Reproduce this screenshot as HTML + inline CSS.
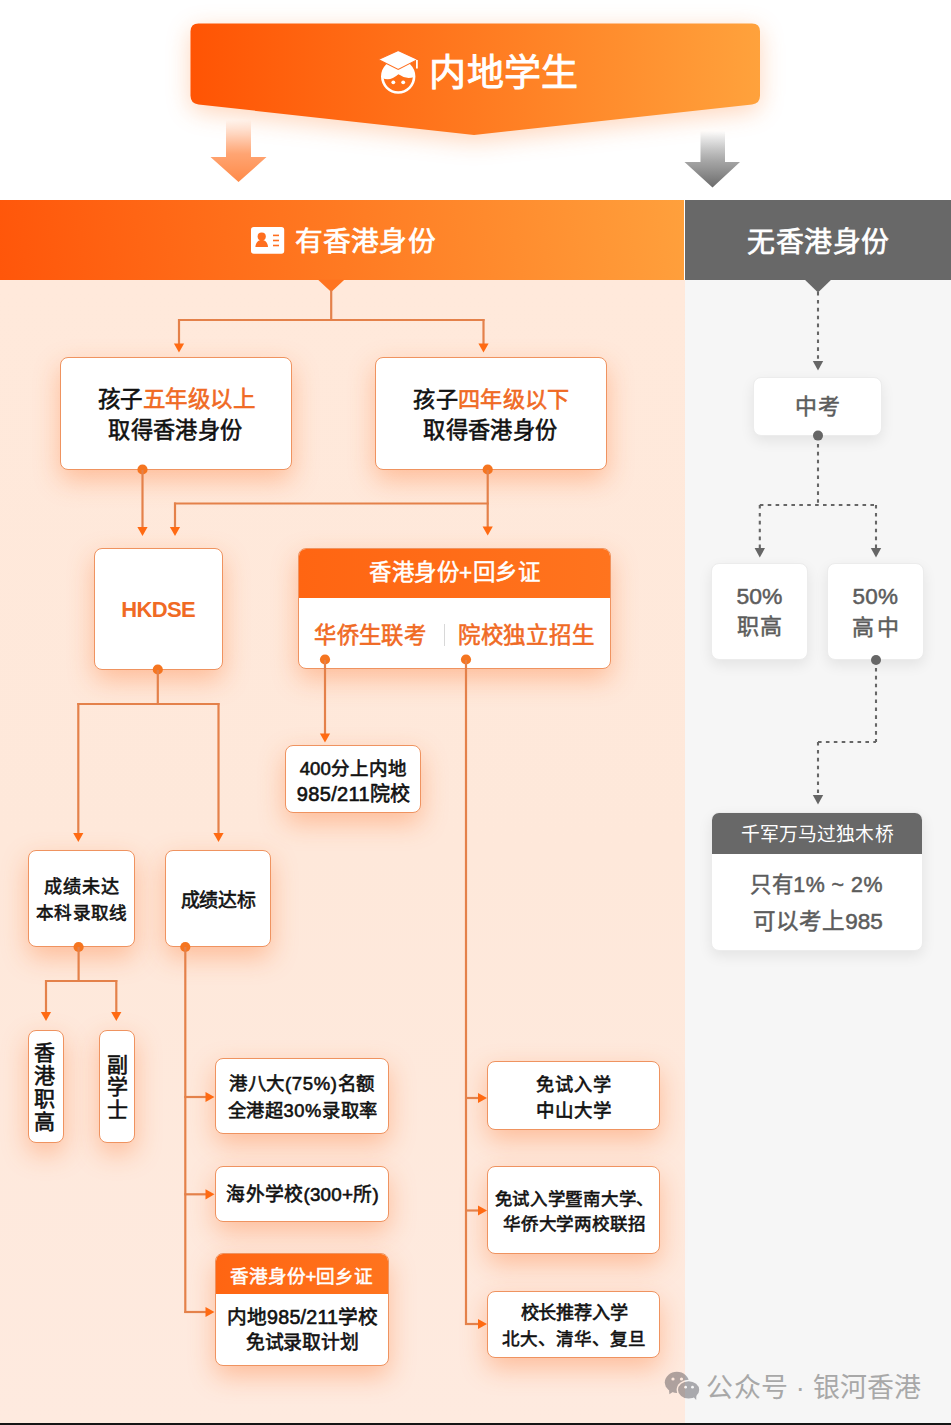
<!DOCTYPE html>
<html lang="zh-CN">
<head>
<meta charset="utf-8">
<style>
*{margin:0;padding:0;box-sizing:border-box;}
html,body{width:951px;height:1425px;overflow:hidden;background:#fff;}
body{position:relative;font-family:"Liberation Sans",sans-serif;}
.abs{position:absolute;}
#lp{position:absolute;left:0;top:280px;width:685px;height:1143px;
  background:linear-gradient(180deg,#FFE9DB 0%,#FEE8DA 50%,#FEEADF 100%);}
#rp{position:absolute;left:685px;top:280px;width:266px;height:1143px;background:#F6F6F6;}
#bot{position:absolute;left:0;top:1423px;width:951px;height:2px;background:#151515;}
#hb1{position:absolute;left:0;top:200px;width:684px;height:80px;
  background:linear-gradient(82deg,#FF560A 0%,#FF7A22 50%,#FFA03C 100%);}
#hb2{position:absolute;left:685px;top:200px;width:266px;height:80px;background:#686868;}
.box{position:absolute;background:#fff;border:1px solid #EF9360;border-radius:8px;overflow:hidden;
  box-shadow:0 10px 26px rgba(255,110,35,0.36);}
.gbox{position:absolute;background:#fff;border-radius:8px;overflow:hidden;border:1px solid #ECECEC;
  box-shadow:0 5px 14px rgba(0,0,0,0.08);}
.hdr{position:absolute;left:-1px;top:-1px;right:-1px;background:linear-gradient(90deg,#FF6512,#FF741E);}
.ghdr{position:absolute;left:-1px;top:-1px;right:-1px;background:#686868;}
.sep{position:absolute;width:1.5px;background:#d8d8d8;}
.t{position:absolute;white-space:nowrap;line-height:1;font-weight:400;}
.t.vt{line-height:22.9px;}
.dk{color:#111;-webkit-text-stroke:0.6px #111;}
.dk .oc{color:#F06A24;-webkit-text-stroke:0.6px #F06A24;}
.oc{color:#F06A24;-webkit-text-stroke:0.6px #F06A24;}
.ocb{color:#F06A24;font-weight:700;}
.wh{color:#fff;-webkit-text-stroke:0.5px #fff;}
.wh.big{-webkit-text-stroke:0.9px #fff;}
.wh.hd{-webkit-text-stroke:0.7px #fff;}
.wh.ql{-webkit-text-stroke:0px #fff;}
.gr{color:#5c5c5c;-webkit-text-stroke:0.5px #5c5c5c;}
.wm{color:#a8a8a8;}
</style>
</head>
<body>
<div id="lp"></div>
<div id="rp"></div>
<div id="hb1"></div>
<div id="hb2"></div>
<div id="bot"></div>
<!-- top banner + arrows -->
<svg class="abs" style="left:0;top:0" width="951" height="200" viewBox="0 0 951 200">
  <defs>
    <linearGradient id="bg1" x1="0" y1="0" x2="1" y2="0">
      <stop offset="0" stop-color="#FF5404"/>
      <stop offset="0.5" stop-color="#FF7A20"/>
      <stop offset="1" stop-color="#FFA23C"/>
    </linearGradient>
    <linearGradient id="ag1" x1="0" y1="0" x2="0" y2="1">
      <stop offset="0" stop-color="#FF8A4C" stop-opacity="0"/>
      <stop offset="0.55" stop-color="#FF9A62" stop-opacity="0.9"/>
      <stop offset="1" stop-color="#FF8A48"/>
    </linearGradient>
    <linearGradient id="ag2" x1="0" y1="0" x2="0" y2="1">
      <stop offset="0" stop-color="#888" stop-opacity="0"/>
      <stop offset="0.55" stop-color="#999" stop-opacity="0.9"/>
      <stop offset="1" stop-color="#6a6a6a"/>
    </linearGradient>
    <filter id="sh1" x="-20%" y="-50%" width="140%" height="200%">
      <feGaussianBlur stdDeviation="12"/>
    </filter>
  </defs>
  <path d="M198.5,23.5 H752 Q760,23.5 760,31.5 V95.5 Q760,103.5 752,104.5 L474,135 L198.5,104.5 Q190.5,103.5 190.5,95.5 V31.5 Q190.5,23.5 198.5,23.5 Z" fill="#FF8A40" opacity="0.35" filter="url(#sh1)" transform="translate(0,6)"/>
  <path d="M198.5,23.5 H752 Q760,23.5 760,31.5 V95.5 Q760,103.5 752,104.5 L474,135 L198.5,104.5 Q190.5,103.5 190.5,95.5 V31.5 Q190.5,23.5 198.5,23.5 Z" fill="url(#bg1)"/>
  <!-- orange arrow -->
  <path d="M226,120 H251 V157 H266.5 L238.5,182 L210.5,157 H226 Z" fill="url(#ag1)"/>
  <!-- gray arrow -->
  <path d="M700.5,131 H725 V162 H740 L712.5,187.5 L684.5,162 H700.5 Z" fill="url(#ag2)"/>
  <!-- student icon -->
  <g transform="translate(372,44)">
    <circle cx="26.2" cy="32.6" r="15.9" fill="none" stroke="#fff" stroke-width="2.6"/>
    <path d="M10.36,34 Q18,37.8 26.4,30.3 L27.9,30.9 Q34,35.6 42.09,33 A15.9,15.9 0 1 0 10.36,34 Z" fill="#fff"/>
    <path d="M26.2,6.4 L45.8,15.4 L26.2,25.4 L6.4,15.6 Z" fill="#fff" stroke="#FF6E1E" stroke-width="1.1"/>
    <path d="M44.9,16 V24.6" stroke="#fff" stroke-width="1.8"/>
    <circle cx="21.3" cy="38.3" r="1.9" fill="#fff"/>
    <circle cx="31.2" cy="38.3" r="1.9" fill="#fff"/>
  </g>
</svg>
<!-- header band content -->
<svg class="abs" style="left:251px;top:227px" width="34" height="27" viewBox="0 0 34 27">
  <rect x="0" y="0" width="33.2" height="26.8" rx="2.8" fill="#fff"/>
  <circle cx="10.7" cy="9.6" r="4.1" fill="#FF6E1E"/>
  <path d="M4.4,20 C4.6,15.6 7,12.9 10.7,12.9 C14.4,12.9 16.8,15.6 17,20 Z" fill="#FF6E1E"/>
  <rect x="22" y="7.6" width="6" height="1.6" fill="#FF6E1E"/>
  <rect x="22" y="12.7" width="6" height="1.6" fill="#FF6E1E"/>
  <rect x="22" y="17.7" width="6" height="1.6" fill="#FF6E1E"/>
</svg>
<!-- wechat icon -->
<svg class="abs" style="left:663px;top:1369px" width="40" height="34" viewBox="0 0 40 34">
  <defs>
    <mask id="wm1"><rect x="0" y="0" width="40" height="34" fill="#fff"/><ellipse cx="25.6" cy="20.9" rx="12" ry="10.1" fill="#000"/></mask>
    <mask id="wm2"><rect x="0" y="0" width="40" height="34" fill="#fff"/>
      <circle cx="10" cy="10" r="1.6" fill="#000"/><circle cx="18.5" cy="10" r="1.6" fill="#000"/>
      <circle cx="22.6" cy="18.2" r="1.4" fill="#000"/><circle cx="29.5" cy="18.2" r="1.4" fill="#000"/></mask>
  </defs>
  <g opacity="0.38" fill="#2e2e38" mask="url(#wm2)">
    <g mask="url(#wm1)">
      <ellipse cx="13.9" cy="13.35" rx="12.1" ry="10.55"/>
      <path d="M6,21 L6.4,25.2 L10.5,22.5 Z"/>
    </g>
    <ellipse cx="25.6" cy="20.9" rx="10.6" ry="8.7"/>
    <path d="M30,27.5 L33.2,31 L33.4,26 Z"/>
  </g>
</svg>

<div class="box" style="left:60px;top:357px;width:232px;height:113px"></div>
<div class="box" style="left:375px;top:357px;width:232px;height:113px"></div>
<div class="box" style="left:94px;top:548px;width:129px;height:122px"></div>
<div class="box" style="left:298px;top:548px;width:313px;height:121px"><div class="hdr" style="height:50px"></div><div class="sep" style="left:144.5px;top:75px;height:22px"></div></div>
<div class="box" style="left:285px;top:745px;width:136px;height:68px"></div>
<div class="box" style="left:28px;top:850px;width:107px;height:97px"></div>
<div class="box" style="left:165px;top:850px;width:106px;height:97px"></div>
<div class="box" style="left:28px;top:1030px;width:36px;height:113px"></div>
<div class="box" style="left:99px;top:1030px;width:36px;height:113px"></div>
<div class="box" style="left:215px;top:1058px;width:174px;height:76px"></div>
<div class="box" style="left:215px;top:1166px;width:174px;height:56px"></div>
<div class="box" style="left:215px;top:1253px;width:174px;height:113px"><div class="hdr" style="height:41px"></div></div>
<div class="box" style="left:487px;top:1061px;width:173px;height:69px"></div>
<div class="box" style="left:487px;top:1166px;width:173px;height:88px"></div>
<div class="box" style="left:487px;top:1291px;width:173px;height:67px"></div>
<div class="gbox" style="left:753px;top:377px;width:129px;height:59px"></div>
<div class="gbox" style="left:711px;top:563px;width:97px;height:97px"></div>
<div class="gbox" style="left:827px;top:563px;width:97px;height:97px"></div>
<div class="gbox" style="left:711px;top:812px;width:212px;height:139px"><div class="ghdr" style="height:42px"></div></div>
<svg class="abs" style="left:0;top:0" width="951" height="1425" viewBox="0 0 951 1425">
<polygon points="317.8,279.5 344.6,279.5 331.2,292" fill="#FF7420"/>
<line x1="331.2" y1="290" x2="331.2" y2="320" stroke="#E4814A" stroke-width="2.2"/>
<line x1="178" y1="320" x2="484.5" y2="320" stroke="#E4814A" stroke-width="2.2"/>
<line x1="179" y1="319" x2="179" y2="345" stroke="#E4814A" stroke-width="2.2"/>
<polygon points="173.9,343.5 184.1,343.5 179,352.5" fill="#FF6A12"/>
<line x1="483.5" y1="319" x2="483.5" y2="345" stroke="#E4814A" stroke-width="2.2"/>
<polygon points="478.4,343.5 488.6,343.5 483.5,352.5" fill="#FF6A12"/>
<circle cx="142.5" cy="469.5" r="5.1" fill="#F57520"/>
<line x1="142.5" y1="470" x2="142.5" y2="528" stroke="#E4814A" stroke-width="2.2"/>
<polygon points="137.4,527 147.6,527 142.5,536" fill="#FF6A12"/>
<circle cx="487.7" cy="469.5" r="5.1" fill="#F57520"/>
<line x1="487.7" y1="470" x2="487.7" y2="528" stroke="#E4814A" stroke-width="2.2"/>
<polygon points="482.59999999999997,526.5 492.8,526.5 487.7,535.5" fill="#FF6A12"/>
<line x1="174" y1="503.5" x2="488.7" y2="503.5" stroke="#E4814A" stroke-width="2.2"/>
<line x1="175" y1="502.5" x2="175" y2="528" stroke="#E4814A" stroke-width="2.2"/>
<polygon points="169.9,527 180.1,527 175,536" fill="#FF6A12"/>
<circle cx="157.8" cy="669.5" r="5.1" fill="#F57520"/>
<line x1="157.8" y1="670" x2="157.8" y2="705" stroke="#E4814A" stroke-width="2.2"/>
<line x1="77.3" y1="704" x2="219.5" y2="704" stroke="#E4814A" stroke-width="2.2"/>
<line x1="78.3" y1="703" x2="78.3" y2="834" stroke="#E4814A" stroke-width="2.2"/>
<polygon points="73.2,833 83.39999999999999,833 78.3,842" fill="#FF6A12"/>
<line x1="218.5" y1="703" x2="218.5" y2="834" stroke="#E4814A" stroke-width="2.2"/>
<polygon points="213.4,833 223.6,833 218.5,842" fill="#FF6A12"/>
<circle cx="325" cy="659.5" r="5.1" fill="#F57520"/>
<line x1="325" y1="660" x2="325" y2="735" stroke="#E4814A" stroke-width="2.2"/>
<polygon points="319.9,733.5 330.1,733.5 325,742.5" fill="#FF6A12"/>
<circle cx="466" cy="659.5" r="5.1" fill="#F57520"/>
<line x1="466" y1="660" x2="466" y2="1325" stroke="#E4814A" stroke-width="2.2"/>
<line x1="465" y1="1098" x2="480" y2="1098" stroke="#E4814A" stroke-width="2.2"/>
<polygon points="478,1092.9 478,1103.1 487,1098" fill="#FF6A12"/>
<line x1="465" y1="1210.5" x2="480" y2="1210.5" stroke="#E4814A" stroke-width="2.2"/>
<polygon points="478,1205.4 478,1215.6 487,1210.5" fill="#FF6A12"/>
<line x1="465" y1="1324" x2="480" y2="1324" stroke="#E4814A" stroke-width="2.2"/>
<polygon points="478,1318.9 478,1329.1 487,1324" fill="#FF6A12"/>
<circle cx="78.6" cy="947" r="5.1" fill="#F57520"/>
<line x1="78.6" y1="947" x2="78.6" y2="982" stroke="#E4814A" stroke-width="2.2"/>
<line x1="45" y1="981" x2="117.3" y2="981" stroke="#E4814A" stroke-width="2.2"/>
<line x1="46" y1="980" x2="46" y2="1013" stroke="#E4814A" stroke-width="2.2"/>
<polygon points="40.9,1012 51.1,1012 46,1021" fill="#FF6A12"/>
<line x1="116.3" y1="980" x2="116.3" y2="1013" stroke="#E4814A" stroke-width="2.2"/>
<polygon points="111.2,1012 121.39999999999999,1012 116.3,1021" fill="#FF6A12"/>
<circle cx="185.3" cy="947" r="5.1" fill="#F57520"/>
<line x1="185.3" y1="947" x2="185.3" y2="1313" stroke="#E4814A" stroke-width="2.2"/>
<line x1="184.3" y1="1097" x2="207" y2="1097" stroke="#E4814A" stroke-width="2.2"/>
<polygon points="205.5,1091.9 205.5,1102.1 214.5,1097" fill="#FF6A12"/>
<line x1="184.3" y1="1194.3" x2="207" y2="1194.3" stroke="#E4814A" stroke-width="2.2"/>
<polygon points="205.5,1189.2 205.5,1199.3999999999999 214.5,1194.3" fill="#FF6A12"/>
<line x1="184.3" y1="1312" x2="207" y2="1312" stroke="#E4814A" stroke-width="2.2"/>
<polygon points="205.5,1306.9 205.5,1317.1 214.5,1312" fill="#FF6A12"/>
<polygon points="804.6,279.5 831.4,279.5 818,292.5" fill="#686868"/>
<line x1="818" y1="292" x2="818" y2="362" stroke="#666666" stroke-width="2.1" stroke-dasharray="3.6 4.3"/>
<polygon points="812.8,361.1 823.2,361.1 818,370.5" fill="#666666"/>
<circle cx="818" cy="435.6" r="5" fill="#666666"/>
<line x1="818" y1="436" x2="818" y2="505" stroke="#666666" stroke-width="2.1" stroke-dasharray="3.6 4.3"/>
<line x1="759.8" y1="505" x2="876" y2="505" stroke="#666666" stroke-width="2.1" stroke-dasharray="3.6 4.3"/>
<line x1="759.8" y1="505" x2="759.8" y2="549" stroke="#666666" stroke-width="2.1" stroke-dasharray="3.6 4.3"/>
<polygon points="754.5999999999999,548.1 765.0,548.1 759.8,557.5" fill="#666666"/>
<line x1="876" y1="505" x2="876" y2="549" stroke="#666666" stroke-width="2.1" stroke-dasharray="3.6 4.3"/>
<polygon points="870.8,548.1 881.2,548.1 876,557.5" fill="#666666"/>
<circle cx="876" cy="660" r="5" fill="#666666"/>
<line x1="876" y1="660" x2="876" y2="742" stroke="#666666" stroke-width="2.1" stroke-dasharray="3.6 4.3"/>
<line x1="818" y1="742" x2="876" y2="742" stroke="#666666" stroke-width="2.1" stroke-dasharray="3.6 4.3"/>
<line x1="818" y1="742" x2="818" y2="796" stroke="#666666" stroke-width="2.1" stroke-dasharray="3.6 4.3"/>
<polygon points="812.8,795.1 823.2,795.1 818,804.5" fill="#666666"/>
</svg>
<div id="t_main" class="t wh big" style="left:429.21px;top:56.30px;font-size:36.96px;letter-spacing:0.33px">内地学生</div>
<div id="t_h1" class="t wh hd" style="left:294.52px;top:228.24px;font-size:27.69px;letter-spacing:0.30px">有香港身份</div>
<div id="t_h2" class="t wh hd" style="left:746.94px;top:229.14px;font-size:27.92px;letter-spacing:0.58px">无香港身份</div>
<div id="a1" class="t dk" style="left:97.70px;top:389.09px;font-size:22.49px;letter-spacing:0.53px">孩子<span class="oc">五年级以上</span></div>
<div id="a2" class="t dk" style="left:108.19px;top:420.19px;font-size:22.19px;letter-spacing:0.43px">取得香港身份</div>
<div id="b1" class="t dk" style="left:413.13px;top:388.69px;font-size:22.11px;letter-spacing:0.39px">孩子<span class="oc">四年级以下</span></div>
<div id="b2" class="t dk" style="left:423.19px;top:420.19px;font-size:22.19px;letter-spacing:0.43px">取得香港身份</div>
<div id="hk" class="t ocb" style="left:121.14px;top:598.52px;font-size:22.00px;letter-spacing:-0.60px">HKDSE</div>
<div id="ch" class="t wh hs" style="left:369.17px;top:562.49px;font-size:22.46px;letter-spacing:0.49px">香港身份+回乡证</div>
<div id="c1" class="t oc" style="left:314.32px;top:625.01px;font-size:22.32px;letter-spacing:0.30px">华侨生联考</div>
<div id="c2" class="t oc" style="left:457.94px;top:625.34px;font-size:22.43px;letter-spacing:0.75px">院校独立招生</div>
<div id="f1" class="t dk" style="left:299.71px;top:760.10px;font-size:18.52px;letter-spacing:0.09px">400分上内地</div>
<div id="f2" class="t dk" style="left:296.78px;top:784.13px;font-size:20.02px;letter-spacing:0.35px">985/211院校</div>
<div id="n1" class="t dk" style="left:43.90px;top:878.09px;font-size:18.09px;letter-spacing:0.89px">成绩未达</div>
<div id="n2" class="t dk" style="left:36.06px;top:904.90px;font-size:17.60px;letter-spacing:0.30px">本科录取线</div>
<div id="d1" class="t dk" style="left:180.62px;top:891.82px;font-size:18.92px;letter-spacing:-0.31px">成绩达标</div>
<div id="v1" class="t dk vt" style="left:34.30px;top:1042.49px;font-size:21.00px;letter-spacing:0.30px">香<br>港<br>职<br>高</div>
<div id="v2" class="t dk vt" style="left:106.55px;top:1053.50px;font-size:21.00px;letter-spacing:0.30px">副<br>学<br>士</div>
<div id="g1" class="t dk" style="left:229.02px;top:1075.21px;font-size:18.48px;letter-spacing:0.66px">港八大(75%)名额</div>
<div id="g2" class="t dk" style="left:227.58px;top:1101.62px;font-size:18.27px;letter-spacing:0.64px">全港超30%录取率</div>
<div id="w1" class="t dk" style="left:226.48px;top:1185.56px;font-size:18.81px;letter-spacing:0.24px">海外学校(300+所)</div>
<div id="nh" class="t wh hs" style="left:229.56px;top:1267.72px;font-size:18.62px;letter-spacing:0.01px">香港身份+回乡证</div>
<div id="m1" class="t dk" style="left:226.73px;top:1308.05px;font-size:19.71px;letter-spacing:0.20px">内地985/211学校</div>
<div id="m2" class="t dk" style="left:245.62px;top:1333.51px;font-size:18.84px;letter-spacing:-0.08px">免试录取计划</div>
<div id="s1" class="t dk" style="left:536.32px;top:1076.25px;font-size:18.19px;letter-spacing:0.94px">免试入学</div>
<div id="s2" class="t dk" style="left:536.13px;top:1102.12px;font-size:18.52px;letter-spacing:-0.13px">中山大学</div>
<div id="j1" class="t dk" style="left:494.55px;top:1190.77px;font-size:17.40px;letter-spacing:0.72px">免试入学暨南大学、</div>
<div id="j2" class="t dk" style="left:502.93px;top:1215.84px;font-size:17.58px;letter-spacing:-0.19px">华侨大学两校联招</div>
<div id="x1" class="t dk" style="left:520.53px;top:1304.43px;font-size:18.16px;letter-spacing:-0.18px">校长推荐入学</div>
<div id="x2" class="t dk" style="left:502.37px;top:1330.78px;font-size:17.57px;letter-spacing:-0.10px">北大、清华、复旦</div>
<div id="zk" class="t gr" style="left:794.91px;top:395.98px;font-size:21.96px;letter-spacing:1.42px">中考</div>
<div id="z1" class="t gr" style="left:736.52px;top:584.98px;font-size:22.94px;letter-spacing:-0.06px">50%</div>
<div id="z2" class="t gr" style="left:737.30px;top:616.48px;font-size:22.00px;letter-spacing:1.16px">职高</div>
<div id="z3" class="t gr" style="left:852.46px;top:586.21px;font-size:22.45px;letter-spacing:0.34px">50%</div>
<div id="z4" class="t gr" style="left:851.89px;top:617.20px;font-size:22.00px;letter-spacing:3.56px">高中</div>
<div id="qh" class="t wh ql" style="left:740.90px;top:826.26px;font-size:18.80px;letter-spacing:0.09px">千军万马过独木桥</div>
<div id="q1" class="t gr" style="left:750.22px;top:874.62px;font-size:21.39px;letter-spacing:0.51px">只有1% ~ 2%</div>
<div id="q2" class="t gr" style="left:752.90px;top:910.51px;font-size:22.53px;letter-spacing:0.06px">可以考上985</div>
<div id="wm" class="t wm" style="left:706.43px;top:1374.76px;font-size:26.96px;letter-spacing:0.22px">公众号 · 银河香港</div>
</body>
</html>
